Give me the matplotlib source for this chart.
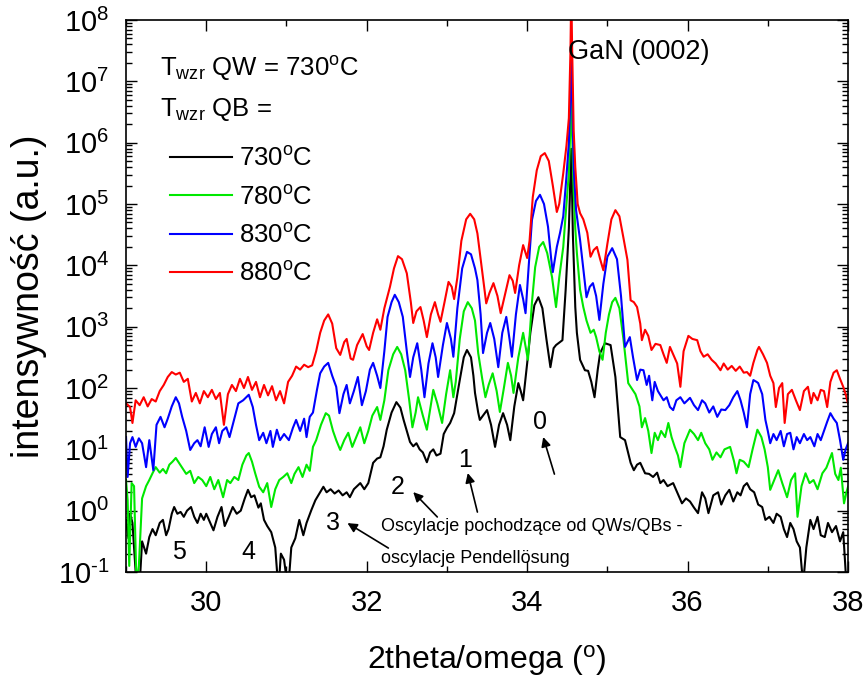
import numpy as np
import matplotlib
matplotlib.use("Agg")
import matplotlib.pyplot as plt
from matplotlib.ticker import LogLocator, MultipleLocator, NullFormatter, FuncFormatter

plt.rcParams["font.family"] = ["Liberation Sans", "DejaVu Sans"]
plt.rcParams["mathtext.fontset"] = "custom"
plt.rcParams["mathtext.rm"] = "Liberation Sans"
plt.rcParams["mathtext.it"] = "Liberation Sans:italic"
plt.rcParams["mathtext.bf"] = "Liberation Sans:bold"
plt.rcParams["mathtext.default"] = "regular"
plt.rcParams["axes.unicode_minus"] = False

# (2theta [deg], log10 intensity) for each barrier growth temperature
pts_730 = [
    (29.00, -0.15), (29.03, -0.45), (29.05, -0.05), (29.08, -0.20), (29.10, -0.60),
    (29.13, -1.20), (29.17, -1.20), (29.20, -0.50), (29.25, -0.70), (29.29, -0.43),
    (29.33, -0.30), (29.37, -0.40), (29.42, -0.20), (29.46, -0.15), (29.50, -0.40),
    (29.53, -0.30), (29.57, -0.05), (29.60, 0.06), (29.64, -0.05), (29.68, -0.02),
    (29.72, -0.10), (29.76, 0.00), (29.81, 0.06), (29.85, -0.10), (29.89, -0.20),
    (29.93, -0.05), (29.97, -0.15), (30.00, -0.05), (30.05, -0.20), (30.09, -0.32),
    (30.14, -0.10), (30.19, 0.06), (30.23, -0.25), (30.28, -0.10), (30.33, 0.06),
    (30.38, -0.05), (30.43, 0.00), (30.48, 0.20), (30.52, 0.34), (30.56, 0.22),
    (30.60, 0.25), (30.65, 0.05), (30.68, 0.12), (30.72, -0.15), (30.76, -0.25),
    (30.81, -0.35), (30.86, -0.60), (30.90, -1.30), (30.93, -0.70), (30.97, -0.80),
    (31.02, -1.30), (31.06, -0.60), (31.11, -0.45), (31.16, -0.15), (31.21, -0.40),
    (31.25, -0.20), (31.31, 0.01), (31.36, 0.17), (31.42, 0.30), (31.46, 0.39),
    (31.50, 0.30), (31.55, 0.35), (31.60, 0.28), (31.65, 0.33), (31.70, 0.25),
    (31.75, 0.30), (31.79, 0.22), (31.84, 0.35), (31.88, 0.40), (31.92, 0.45),
    (31.97, 0.35), (32.02, 0.45), (32.08, 0.78), (32.13, 0.85), (32.17, 0.87),
    (32.21, 1.05), (32.25, 1.32), (32.31, 1.60), (32.37, 1.77), (32.42, 1.68),
    (32.46, 1.48), (32.50, 1.30), (32.54, 1.12), (32.58, 1.05), (32.62, 1.10),
    (32.66, 1.00), (32.70, 0.95), (32.75, 0.79), (32.79, 0.95), (32.83, 1.00),
    (32.87, 0.90), (32.92, 0.93), (32.96, 1.25), (33.00, 1.35), (33.04, 1.43),
    (33.09, 1.59), (33.16, 2.13), (33.21, 2.50), (33.25, 2.62), (33.30, 2.50),
    (33.33, 2.20), (33.35, 1.92), (33.39, 1.60), (33.41, 1.48), (33.45, 1.55),
    (33.50, 1.64), (33.55, 1.40), (33.60, 1.04), (33.65, 1.40), (33.70, 1.59),
    (33.75, 1.40), (33.79, 1.15), (33.84, 1.70), (33.89, 2.08), (33.92, 1.95),
    (33.95, 1.80), (34.00, 2.40), (34.04, 2.90), (34.09, 3.35), (34.14, 3.48),
    (34.19, 3.30), (34.24, 2.80), (34.29, 2.34), (34.33, 2.65), (34.36, 2.70),
    (34.41, 2.75), (34.44, 2.78), (34.48, 3.60), (34.52, 4.60), (34.55, 5.90),
    (34.57, 4.50), (34.60, 3.32), (34.62, 2.90), (34.66, 2.46), (34.72, 2.29),
    (34.76, 2.28), (34.80, 2.10), (34.84, 1.85), (34.88, 2.30), (34.91, 2.57),
    (34.97, 2.73), (35.04, 2.70), (35.10, 2.18), (35.16, 1.20), (35.22, 1.15),
    (35.29, 0.78), (35.33, 0.66), (35.37, 0.75), (35.41, 0.78), (35.47, 0.61),
    (35.52, 0.60), (35.57, 0.55), (35.62, 0.62), (35.66, 0.45), (35.70, 0.50),
    (35.75, 0.40), (35.82, 0.45), (35.87, 0.30), (35.93, 0.12), (35.98, 0.20),
    (36.03, 0.15), (36.08, 0.05), (36.13, -0.04), (36.18, 0.30), (36.22, 0.20),
    (36.26, -0.04), (36.32, 0.25), (36.38, 0.30), (36.42, 0.10), (36.47, 0.25),
    (36.52, 0.34), (36.57, 0.15), (36.62, 0.30), (36.66, 0.25), (36.70, 0.40),
    (36.74, 0.45), (36.78, 0.35), (36.83, 0.30), (36.88, 0.10), (36.93, 0.06),
    (36.97, -0.15), (37.02, -0.10), (37.07, -0.20), (37.11, -0.05), (37.16, -0.10),
    (37.20, -0.30), (37.24, -0.43), (37.28, -0.20), (37.32, -0.30), (37.36, -0.50),
    (37.40, -0.60), (37.44, -1.20), (37.48, -0.60), (37.53, -0.15), (37.57, -0.30),
    (37.62, -0.10), (37.66, -0.40), (37.71, -0.43), (37.75, -0.20), (37.80, -0.35),
    (37.85, -0.25), (37.90, -0.50), (37.94, -0.35), (37.98, -1.20), (38.00, -1.20),
]

pts_780 = [
    (29.00, 0.50), (29.02, 0.17), (29.04, -0.90), (29.07, 0.45), (29.10, 0.40),
    (29.13, -1.20), (29.16, -0.90), (29.20, 0.20), (29.25, 0.40), (29.29, 0.50),
    (29.33, 0.61), (29.37, 0.71), (29.42, 0.62), (29.46, 0.68), (29.50, 0.61),
    (29.54, 0.75), (29.58, 0.80), (29.62, 0.86), (29.66, 0.78), (29.70, 0.70),
    (29.75, 0.60), (29.80, 0.65), (29.85, 0.45), (29.90, 0.55), (29.95, 0.50),
    (30.00, 0.40), (30.05, 0.55), (30.10, 0.35), (30.15, 0.50), (30.21, 0.22),
    (30.26, 0.50), (30.30, 0.45), (30.35, 0.55), (30.40, 0.50), (30.45, 0.75),
    (30.50, 0.90), (30.53, 0.94), (30.57, 0.80), (30.61, 0.61), (30.66, 0.39),
    (30.71, 0.30), (30.76, 0.45), (30.81, 0.06), (30.86, 0.35), (30.91, 0.50),
    (30.96, 0.55), (31.01, 0.61), (31.06, 0.45), (31.10, 0.60), (31.15, 0.71),
    (31.20, 0.55), (31.25, 0.75), (31.29, 0.65), (31.33, 1.04), (31.37, 1.15),
    (31.43, 1.40), (31.49, 1.59), (31.53, 1.55), (31.58, 1.30), (31.62, 1.15),
    (31.67, 0.99), (31.72, 1.15), (31.77, 1.27), (31.82, 1.04), (31.87, 1.20),
    (31.92, 1.36), (31.97, 1.10), (32.02, 1.30), (32.07, 1.55), (32.13, 1.69),
    (32.17, 1.48), (32.22, 1.80), (32.27, 2.29), (32.33, 2.55), (32.38, 2.67),
    (32.43, 2.55), (32.48, 2.29), (32.53, 1.80), (32.57, 1.36), (32.61, 1.60),
    (32.64, 1.85), (32.70, 1.55), (32.75, 1.32), (32.79, 1.65), (32.83, 1.97),
    (32.88, 1.75), (32.94, 1.43), (32.99, 1.90), (33.04, 2.29), (33.08, 1.85),
    (33.11, 2.10), (33.16, 2.80), (33.21, 3.25), (33.26, 3.40), (33.31, 3.30),
    (33.35, 3.10), (33.39, 2.57), (33.44, 2.15), (33.48, 1.85), (33.52, 2.05),
    (33.57, 2.24), (33.62, 1.95), (33.66, 1.61), (33.71, 2.00), (33.76, 2.41),
    (33.80, 2.20), (33.83, 1.92), (33.89, 2.50), (33.95, 2.90), (33.99, 2.60),
    (34.01, 2.46), (34.06, 3.40), (34.10, 3.97), (34.15, 4.30), (34.20, 4.38),
    (34.25, 4.20), (34.31, 3.81), (34.36, 3.32), (34.40, 3.80), (34.45, 4.30),
    (34.49, 5.00), (34.52, 5.50), (34.54, 6.30), (34.55, 6.70), (34.56, 6.20),
    (34.58, 5.20), (34.60, 4.60), (34.62, 4.20), (34.66, 3.60), (34.70, 3.32),
    (34.74, 3.10), (34.79, 2.90), (34.83, 2.95), (34.86, 2.83), (34.90, 2.60),
    (34.94, 2.46), (34.98, 2.90), (35.02, 3.20), (35.06, 3.40), (35.10, 3.47),
    (35.15, 3.30), (35.20, 2.80), (35.26, 2.08), (35.30, 2.00), (35.35, 1.90),
    (35.40, 1.70), (35.43, 1.36), (35.47, 1.51), (35.51, 1.30), (35.55, 0.94),
    (35.59, 1.27), (35.63, 1.15), (35.67, 1.30), (35.72, 1.20), (35.76, 1.43),
    (35.80, 1.20), (35.84, 1.04), (35.88, 0.90), (35.91, 0.71), (35.96, 1.10),
    (36.03, 1.32), (36.08, 1.25), (36.13, 1.15), (36.17, 1.27), (36.22, 1.10),
    (36.27, 1.00), (36.31, 0.83), (36.36, 0.95), (36.41, 0.87), (36.46, 1.00),
    (36.53, 1.04), (36.58, 0.80), (36.61, 0.61), (36.65, 0.83), (36.70, 0.80),
    (36.76, 0.71), (36.81, 1.00), (36.87, 1.32), (36.92, 1.20), (36.96, 1.00),
    (37.00, 0.71), (37.03, 0.34), (37.08, 0.50), (37.13, 0.66), (37.18, 0.45),
    (37.24, 0.22), (37.29, 0.50), (37.34, 0.61), (37.37, -0.10), (37.42, 0.40),
    (37.47, 0.61), (37.52, 0.45), (37.57, 0.50), (37.62, 0.35), (37.68, 0.61),
    (37.73, 0.70), (37.80, 0.94), (37.84, 0.60), (37.88, 0.50), (37.91, 0.70),
    (37.95, 0.12), (37.98, 0.30), (38.00, 0.39),
]

pts_830 = [
    (29.00, 1.20), (29.02, 0.55), (29.05, 1.10), (29.08, 1.20), (29.12, 1.04),
    (29.16, 1.18), (29.20, 1.10), (29.25, 0.71), (29.29, 1.15), (29.34, 0.66),
    (29.38, 1.40), (29.43, 1.53), (29.48, 1.36), (29.52, 1.50), (29.57, 1.70),
    (29.62, 1.85), (29.66, 1.75), (29.70, 1.53), (29.75, 1.30), (29.80, 0.99),
    (29.85, 1.10), (29.89, 1.15), (29.93, 1.05), (29.98, 1.36), (30.03, 1.04),
    (30.07, 1.25), (30.12, 1.36), (30.16, 1.10), (30.20, 1.30), (30.25, 1.36),
    (30.29, 1.20), (30.34, 1.45), (30.40, 1.75), (30.46, 1.80), (30.53, 1.89),
    (30.58, 1.69), (30.62, 1.40), (30.66, 1.15), (30.71, 1.27), (30.75, 1.10),
    (30.80, 1.30), (30.83, 1.04), (30.88, 1.32), (30.92, 1.15), (30.97, 1.25),
    (31.03, 1.15), (31.08, 1.35), (31.12, 1.48), (31.17, 1.30), (31.22, 1.50),
    (31.25, 1.20), (31.29, 1.53), (31.33, 1.60), (31.38, 1.97), (31.42, 2.24),
    (31.47, 2.35), (31.52, 2.41), (31.57, 2.20), (31.62, 2.02), (31.66, 1.59),
    (31.71, 1.90), (31.75, 2.05), (31.79, 1.75), (31.84, 1.95), (31.89, 2.18),
    (31.94, 1.72), (31.99, 1.95), (32.04, 2.30), (32.08, 2.41), (32.13, 2.20),
    (32.17, 2.00), (32.22, 2.60), (32.26, 3.16), (32.31, 3.40), (32.35, 3.52),
    (32.40, 3.40), (32.45, 3.16), (32.50, 2.60), (32.54, 2.18), (32.58, 2.50),
    (32.63, 2.73), (32.68, 2.30), (32.72, 1.85), (32.77, 2.40), (32.82, 2.73),
    (32.86, 2.50), (32.89, 2.18), (32.95, 2.70), (33.00, 3.06), (33.05, 2.80),
    (33.08, 2.51), (33.13, 3.30), (33.19, 3.95), (33.25, 4.22), (33.30, 4.18),
    (33.35, 3.95), (33.38, 3.76), (33.42, 3.20), (33.45, 2.57), (33.50, 2.90),
    (33.54, 3.06), (33.59, 2.80), (33.64, 2.34), (33.69, 2.90), (33.74, 3.16),
    (33.78, 2.80), (33.81, 2.51), (33.86, 3.20), (33.91, 3.68), (33.95, 3.45),
    (33.98, 3.22), (34.02, 4.00), (34.06, 4.74), (34.11, 5.05), (34.16, 5.15),
    (34.21, 5.00), (34.26, 4.63), (34.30, 4.10), (34.32, 3.89), (34.37, 4.30),
    (34.41, 4.53), (34.45, 4.80), (34.49, 5.45), (34.52, 6.00), (34.54, 6.80),
    (34.55, 7.40), (34.56, 6.90), (34.58, 5.60), (34.61, 4.90), (34.66, 4.41),
    (34.70, 3.95), (34.74, 3.48), (34.78, 3.65), (34.82, 3.71), (34.86, 3.50),
    (34.90, 3.11), (34.95, 3.70), (35.00, 4.14), (35.06, 4.28), (35.12, 4.10),
    (35.17, 3.50), (35.22, 2.67), (35.28, 2.83), (35.32, 2.50), (35.37, 2.13),
    (35.41, 2.30), (35.45, 2.29), (35.49, 2.05), (35.52, 2.20), (35.56, 1.80),
    (35.59, 2.10), (35.63, 1.95), (35.70, 1.80), (35.74, 1.85), (35.78, 1.69),
    (35.82, 1.64), (35.86, 1.80), (35.91, 1.85), (35.96, 1.75), (36.03, 1.84),
    (36.08, 1.72), (36.13, 1.64), (36.18, 1.80), (36.22, 1.75), (36.27, 1.60),
    (36.32, 1.70), (36.37, 1.53), (36.42, 1.65), (36.47, 1.64), (36.52, 1.72),
    (36.57, 1.85), (36.62, 1.95), (36.66, 1.80), (36.70, 1.60), (36.74, 1.36),
    (36.78, 1.90), (36.82, 2.13), (36.86, 2.10), (36.88, 2.08), (36.93, 1.90),
    (36.97, 1.48), (37.00, 1.30), (37.03, 1.10), (37.07, 1.25), (37.11, 1.15),
    (37.16, 1.30), (37.20, 1.05), (37.24, 1.25), (37.28, 1.27), (37.32, 1.00),
    (37.36, 1.20), (37.40, 1.10), (37.45, 1.25), (37.49, 1.15), (37.53, 1.20),
    (37.58, 1.05), (37.62, 1.25), (37.66, 1.15), (37.70, 1.30), (37.74, 1.45),
    (37.78, 1.59), (37.82, 1.50), (37.86, 1.43), (37.90, 1.15), (37.94, 0.83),
    (37.97, 1.00), (38.00, 1.10),
]

pts_880 = [
    (29.00, 1.75), (29.05, 1.69), (29.08, 1.43), (29.12, 1.80), (29.17, 1.72),
    (29.22, 1.85), (29.27, 1.70), (29.32, 1.82), (29.37, 1.78), (29.42, 1.95),
    (29.47, 2.05), (29.52, 2.18), (29.57, 2.26), (29.62, 2.22), (29.67, 2.25),
    (29.72, 2.10), (29.77, 2.15), (29.82, 1.78), (29.87, 1.92), (29.92, 1.75),
    (29.97, 1.95), (30.02, 1.85), (30.07, 1.97), (30.12, 1.82), (30.17, 1.92),
    (30.22, 1.40), (30.27, 1.90), (30.32, 2.05), (30.37, 1.95), (30.42, 2.15),
    (30.47, 2.00), (30.52, 2.18), (30.57, 1.97), (30.62, 2.10), (30.67, 1.85),
    (30.72, 2.05), (30.77, 1.88), (30.82, 2.03), (30.87, 1.80), (30.92, 1.95),
    (30.97, 1.75), (31.02, 2.10), (31.07, 2.20), (31.12, 2.35), (31.17, 2.30),
    (31.22, 2.38), (31.27, 2.34), (31.32, 2.37), (31.37, 2.60), (31.42, 2.90),
    (31.47, 3.10), (31.52, 3.20), (31.57, 3.05), (31.62, 2.65), (31.67, 2.54),
    (31.72, 2.75), (31.75, 2.80), (31.80, 2.48), (31.83, 2.46), (31.88, 2.70),
    (31.95, 2.88), (32.00, 2.68), (32.03, 2.62), (32.08, 2.90), (32.13, 3.12),
    (32.17, 2.95), (32.22, 3.30), (32.29, 3.65), (32.34, 3.95), (32.39, 4.15),
    (32.44, 4.10), (32.50, 3.87), (32.55, 3.40), (32.58, 3.06), (32.62, 3.25),
    (32.67, 3.32), (32.71, 3.10), (32.75, 2.83), (32.80, 3.20), (32.85, 3.40),
    (32.89, 3.20), (32.92, 3.08), (32.97, 3.40), (33.02, 3.73), (33.06, 3.65),
    (33.09, 3.45), (33.13, 3.80), (33.18, 4.40), (33.24, 4.75), (33.29, 4.84),
    (33.34, 4.75), (33.38, 4.52), (33.43, 4.00), (33.49, 3.38), (33.53, 3.55),
    (33.58, 3.71), (33.63, 3.50), (33.67, 3.22), (33.72, 3.50), (33.78, 3.84),
    (33.82, 3.75), (33.85, 3.55), (33.90, 4.00), (33.95, 4.33), (34.00, 4.12),
    (34.03, 4.40), (34.07, 5.11), (34.12, 5.55), (34.17, 5.78), (34.22, 5.83),
    (34.27, 5.70), (34.32, 5.30), (34.37, 4.87), (34.40, 5.00), (34.45, 5.50),
    (34.49, 5.95), (34.52, 6.40), (34.54, 7.50), (34.55, 8.50), (34.56, 7.60),
    (34.58, 6.20), (34.60, 5.60), (34.63, 5.00), (34.66, 4.85), (34.70, 4.75),
    (34.75, 4.53), (34.79, 4.14), (34.83, 4.25), (34.87, 4.30), (34.91, 4.10),
    (34.95, 3.92), (35.00, 4.35), (35.05, 4.75), (35.10, 4.90), (35.15, 4.80),
    (35.20, 4.45), (35.25, 4.09), (35.29, 3.43), (35.33, 3.40), (35.37, 3.32),
    (35.41, 3.05), (35.43, 2.78), (35.47, 2.95), (35.51, 2.85), (35.55, 2.62),
    (35.60, 2.72), (35.66, 2.70), (35.70, 2.55), (35.74, 2.41), (35.78, 2.67),
    (35.82, 2.55), (35.87, 2.40), (35.91, 2.02), (35.95, 2.60), (36.01, 2.85),
    (36.06, 2.80), (36.12, 2.78), (36.16, 2.60), (36.20, 2.51), (36.25, 2.55),
    (36.30, 2.46), (36.35, 2.40), (36.41, 2.29), (36.45, 2.40), (36.50, 2.30),
    (36.55, 2.36), (36.60, 2.28), (36.65, 2.35), (36.70, 2.25), (36.74, 2.26),
    (36.78, 2.20), (36.82, 2.41), (36.87, 2.62), (36.89, 2.67), (36.94, 2.55),
    (36.99, 2.41), (37.03, 2.20), (37.07, 2.08), (37.10, 1.69), (37.14, 2.00),
    (37.18, 2.08), (37.21, 1.43), (37.25, 1.90), (37.30, 1.97), (37.35, 1.80),
    (37.40, 1.64), (37.45, 1.95), (37.50, 2.02), (37.54, 1.75), (37.57, 1.92),
    (37.62, 1.80), (37.66, 1.97), (37.70, 1.95), (37.74, 1.69), (37.78, 2.10),
    (37.82, 2.25), (37.86, 2.29), (37.90, 2.15), (37.94, 2.02), (37.97, 1.90),
    (38.00, 1.75),
]

series_labels = ["730$^{o}$C", "780$^{o}$C", "830$^{o}$C", "880$^{o}$C"]
series_colors = ["#000000", "#00e800", "#0000ff", "#ff0000"]
series_points = [pts_730, pts_780, pts_830, pts_880]

# Pendellösung fringe order labels: (text, 2theta, intensity)
order_labels = [("0", 34.16, 27.9), ("1", 33.23, 6.7), ("2", 32.39, 2.43),
                ("3", 31.58, 0.63), ("4", 30.52, 0.212), ("5", 29.66, 0.212)]
# arrows: (tail 2theta, tail intensity, head 2theta, head intensity)
order_arrows = [(34.34, 3.95, 34.20, 15.9), (33.38, 0.95, 33.26, 4.11),
                (32.88, 0.79, 32.58, 2.01), (32.27, 0.246, 31.76, 0.628)]


def decade_label(val, _pos):
    e = int(round(np.log10(val)))
    exp = r"\text{-}%d" % (-e) if e < 0 else "%d" % e
    return r"$10^{%s}$" % exp


fig = plt.figure(figsize=(8.68, 6.78), dpi=100)
ax = fig.add_axes([0.1452, 0.1563, 0.8318, 0.8142])

for pts, lab, col in zip(series_points, series_labels, series_colors):
    tt = np.array([p[0] for p in pts])
    inten = 10.0 ** np.array([p[1] for p in pts])
    ax.plot(tt, inten, color=col, lw=1.5, label=lab)

ax.set_yscale("log")
ax.set_xlim(29, 38)
ax.set_ylim(1e-1, 1e8)
ax.xaxis.set_major_locator(MultipleLocator(2))
ax.xaxis.set_minor_locator(MultipleLocator(1))
ax.yaxis.set_major_locator(LogLocator(base=10, numticks=20))
ax.yaxis.set_major_formatter(FuncFormatter(decade_label))
ax.yaxis.set_minor_locator(LogLocator(base=10, subs=np.arange(2, 10), numticks=200))
ax.yaxis.set_minor_formatter(NullFormatter())
ax.tick_params(which="both", direction="in", top=True, right=True, width=1.0)
ax.tick_params(which="major", length=8, labelsize=21, pad=12)
ax.tick_params(which="minor", length=4.5)
for sp in ax.spines.values():
    sp.set_linewidth(1.2)

ax.set_xlabel("2theta/omega ($^{o}$)", fontsize=23, labelpad=19)
ax.set_ylabel("intensywność (a.u.)", fontsize=27, labelpad=8)

ax.text(0.047, 0.913, "T$_{wzr}$ QW = 730$^{o}$C", transform=ax.transAxes,
        fontsize=18.5, va="center", ha="left")
ax.text(0.047, 0.837, "T$_{wzr}$ QB =", transform=ax.transAxes,
        fontsize=18.5, va="center", ha="left")
ax.legend(loc="upper left", bbox_to_anchor=(0.061, 0.77), frameon=False,
          fontsize=18.5, handlelength=2.4, handletextpad=0.3, labelspacing=0.56,
          borderpad=0, borderaxespad=0)

ax.text(34.51, 10 ** 7.478, "GaN (0002)", fontsize=19.5, va="center", ha="left")

for txt, x, y in order_labels:
    ax.text(x, y, txt, fontsize=18, ha="center", va="center")
for x0, y0, x1, y1 in order_arrows:
    ax.annotate("", xy=(x1, y1), xytext=(x0, y0),
                arrowprops=dict(arrowstyle="-|>", color="black", lw=1.2,
                                mutation_scale=14, shrinkA=0, shrinkB=0))

ax.text(32.18, 10 ** -0.25, "Oscylacje pochodzące od QWs/QBs -", fontsize=13,
        ha="left", va="center")
ax.text(32.18, 10 ** -0.772, "oscylacje Pendellösung", fontsize=13,
        ha="left", va="center")

fig.savefig("out.png", dpi=100)
